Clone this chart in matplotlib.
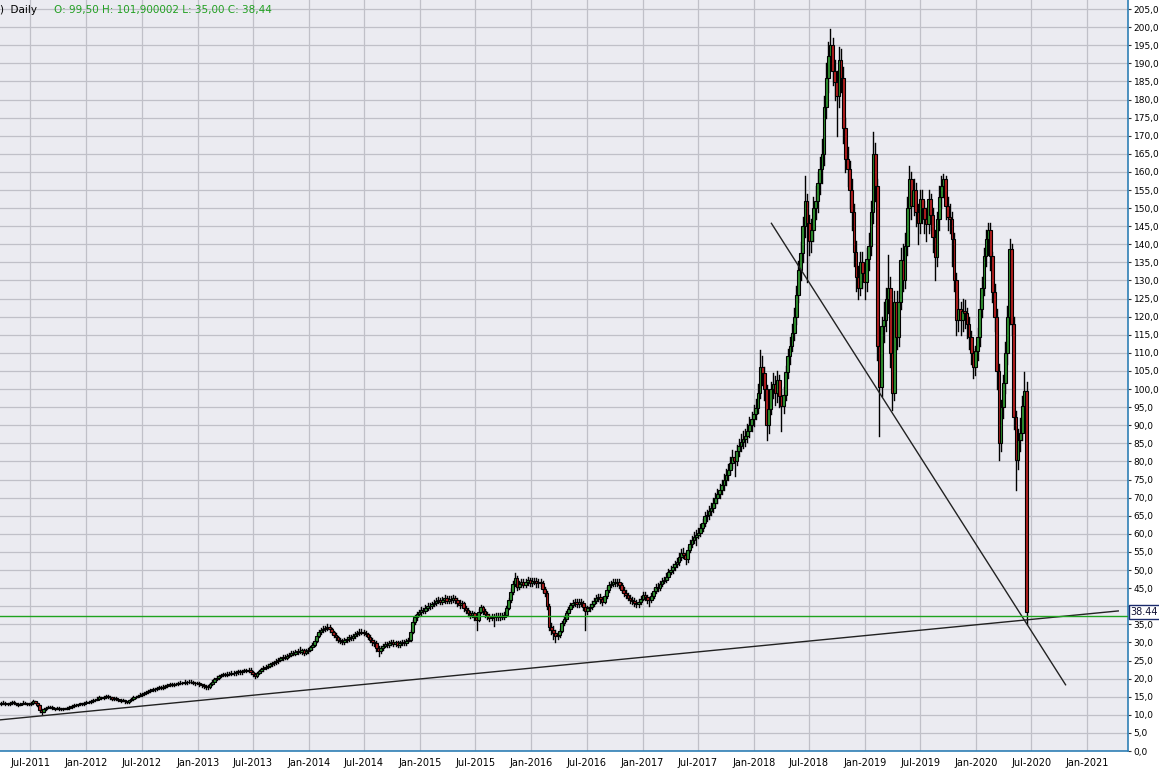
import numpy as np
import pandas as pd
import matplotlib
matplotlib.use("Agg")
import matplotlib.pyplot as plt
import matplotlib.dates as mdates
import matplotlib.transforms as mtransforms

# weekly bars, first bar in the week of 2011-03-28
first_week = "2011-03-28"
first_open = 13.0

close = [
    13.2, 13.4, 13.1, 12.9, 13.3, 13.5, 13.2, 13.0, 12.8, 13.1, 13.4, 13.2, 12.9, 13.0, 13.3,
    13.7, 13.4, 12.6, 11.2, 10.9,
    11.6, 12.0, 12.2, 12.1, 11.8, 11.7, 11.9, 11.6, 11.5, 11.8, 11.7, 11.9,
    12.2, 12.4, 12.7, 12.6, 12.9, 13.2, 13.0, 13.4, 13.6, 13.5, 13.8, 14.0, 14.2,
    14.5, 14.8, 14.6, 14.9, 15.1, 15.0,
    14.8, 14.5, 14.6, 14.3, 14.1, 13.9, 14.0, 13.7, 13.6,
    14.0, 14.4, 14.9, 15.0, 15.3, 15.6, 15.8, 16.0,
    16.3, 16.5, 16.8, 17.0, 17.2, 17.3, 17.6, 17.5, 17.8, 18.0,
    18.2, 18.4, 18.3, 18.6, 18.5, 18.7, 18.9, 18.8, 19.1, 19.0, 19.2, 19.1,
    18.9, 18.7, 18.8, 18.4, 18.1, 17.9, 17.6, 17.8,
    18.4, 19.2, 19.8, 20.3, 20.7, 21.0,
    21.2, 21.0, 21.4, 21.3, 21.6, 21.5, 21.8, 22.0, 21.8, 22.1, 22.3, 22.2, 22.5,
    21.8, 21.2, 20.8,
    21.5, 22.1, 22.6, 23.0, 23.2, 23.6, 23.9, 24.2, 24.5, 24.8, 25.2,
    25.6, 26.0, 25.8, 26.3, 26.6, 27.1, 26.9, 27.3, 27.6, 27.4, 27.8,
    27.2, 27.6, 28.0, 28.6, 29.3, 30.5, 31.8, 32.9,
    33.3, 33.8, 34.0, 34.3, 33.6, 32.8, 32.1, 31.4, 30.8, 30.5, 30.2,
    30.6, 31.0, 31.5, 31.2, 31.8, 32.4, 32.6, 33.0, 32.9,
    32.6, 32.3, 31.6, 30.8, 30.1, 29.9, 28.5, 27.6,
    28.4, 29.1, 29.5, 29.2, 29.8, 30.2, 29.6, 30.0, 29.3, 29.8, 30.1, 29.9, 30.5, 30.7,
    32.8, 35.7, 36.9, 37.8, 38.3, 39.0, 38.7, 39.6, 40.2, 40.0, 40.6, 40.9,
    41.4, 41.8, 41.2, 41.7, 42.3, 41.5, 41.9, 41.8,
    42.2, 41.6, 41.0, 40.4, 40.8, 39.6, 38.9, 38.2, 37.5, 38.0, 37.0, 36.2,
    38.5, 39.8, 38.6, 37.9, 37.2, 36.8, 37.1,
    36.9, 37.3, 37.0, 37.4, 37.1, 37.6, 39.5, 41.8, 44.0, 46.2, 47.9,
    45.4, 46.2, 46.8, 46.0, 46.7, 47.2, 46.5, 46.9, 47.0, 46.3, 46.8, 46.5,
    44.8, 43.7, 40.2, 34.3, 33.5, 32.5, 31.8, 32.1,
    33.2, 35.4, 36.5, 38.0, 39.2, 40.3, 40.9,
    41.3, 40.6, 41.2, 40.9, 39.8, 38.6, 39.5, 39.8, 40.7, 41.5, 42.2, 42.6,
    41.9, 41.2, 42.8, 44.5, 45.9, 46.2, 46.7, 46.3, 46.7,
    45.8, 44.6, 43.7, 43.0, 42.4, 41.8, 41.5, 41.0, 40.6, 41.2,
    42.0, 43.2, 42.6, 41.8, 41.8, 42.9, 44.1, 45.4, 45.0, 46.2, 47.0, 47.3,
    48.2, 49.5, 50.1, 50.8, 51.6, 52.3, 53.5, 54.8,
    54.2, 53.0, 55.6, 57.2, 58.4, 59.2, 59.8, 60.3,
    61.5, 63.0, 64.8, 65.3, 66.4, 67.2,
    68.5, 69.8, 71.0, 72.2, 73.4, 74.8, 76.3, 77.7,
    79.5, 81.3, 80.2, 82.8, 84.2, 85.5, 86.2, 86.9,
    88.4, 90.1, 91.6, 93.2, 94.9, 99.0, 106.0,
    104.5, 100.0, 90.0, 94.5, 99.9, 101.5, 98.8, 102.6,
    98.0, 95.2, 98.5, 104.6, 109.0, 112.0, 115.6,
    120.0, 126.0, 133.0, 137.5, 145.0, 152.0, 146.0, 141.0, 144.0,
    150.0, 152.0, 157.0, 160.7, 165.0, 178.0, 186.0, 192.0, 195.0,
    188.0, 184.8, 181.0, 191.0, 186.0, 172.0, 163.5, 160.7, 155.0, 148.8, 138.0,
    131.0, 128.0, 135.0, 132.0, 129.5, 136.0, 139.4, 148.8, 165.0, 156.0,
    112.0, 100.7, 117.3, 119.0, 125.0, 128.0, 110.0, 99.0, 124.0, 114.5,
    124.0, 135.8, 130.0, 139.4, 150.0, 158.0, 150.5, 155.0, 148.8, 146.0,
    152.4, 150.0, 147.0, 145.5, 152.4, 148.0, 142.0, 136.5, 147.0, 153.0,
    156.0, 158.0, 150.5, 147.5, 147.0, 141.4, 130.0, 119.0, 122.0, 119.0,
    121.5, 121.0, 118.0, 114.5, 110.0, 106.0, 110.5, 114.5, 122.0, 128.0,
    136.7, 141.4, 144.0, 136.7, 126.7, 120.0, 105.0, 85.2, 95.0, 101.8,
    110.0, 120.0, 138.6, 118.0, 92.4, 80.5, 86.0, 88.0, 95.2, 99.5, 38.44,
]

high = [
    13.5, 13.7, 13.6, 13.3, 13.6, 13.8, 13.7, 13.4, 13.2, 13.3, 13.7, 13.6, 13.4, 13.3, 13.6,
    14.0, 13.9, 13.5, 12.8, 11.5,
    11.8, 12.2, 12.5, 12.4, 12.3, 12.0, 12.1, 12.1, 11.8, 12.0, 12.0, 12.1,
    12.4, 12.6, 12.9, 12.9, 13.1, 13.4, 13.4, 13.6, 13.9, 13.8, 14.1, 14.3, 14.5,
    14.8, 15.1, 15.0, 15.2, 15.4, 15.4,
    15.3, 15.0, 14.9, 14.8, 14.5, 14.3, 14.3, 14.2, 13.9,
    14.2, 14.6, 15.1, 15.3, 15.6, 15.9, 16.1, 16.3,
    16.6, 16.8, 17.1, 17.3, 17.5, 17.6, 17.9, 17.9, 18.1, 18.3,
    18.5, 18.7, 18.7, 18.9, 18.9, 19.0, 19.3, 19.2, 19.5, 19.4, 19.6, 19.5,
    19.4, 19.2, 19.1, 19.0, 18.6, 18.4, 18.1, 18.1,
    18.7, 19.5, 20.1, 20.6, 21.1, 21.4,
    21.6, 21.5, 21.8, 21.8, 22.0, 22.0, 22.2, 22.4, 22.4, 22.5, 22.7, 22.7, 22.9,
    22.8, 22.1, 21.5,
    21.8, 22.5, 23.0, 23.4, 23.7, 24.0, 24.4, 24.7, 25.0, 25.3, 25.7,
    26.1, 26.5, 26.4, 26.8, 27.1, 27.6, 27.5, 27.8, 28.1, 28.6, 28.3,
    28.2, 28.1, 28.5, 29.1, 29.8, 31.0, 32.3, 33.4,
    33.9, 34.4, 34.6, 35.0, 34.8, 34.0, 33.2, 32.5, 31.8, 31.3, 31.0,
    31.1, 31.5, 32.0, 32.0, 32.3, 32.9, 33.2, 33.6, 33.6,
    33.4, 33.1, 32.7, 32.0, 31.2, 30.6, 30.3, 29.0,
    28.9, 29.6, 30.0, 30.0, 30.3, 30.7, 30.7, 30.5, 30.5, 30.3, 30.6, 30.6, 31.0, 31.3,
    33.3, 36.2, 37.5, 38.5, 39.0, 39.7, 39.6, 40.3, 40.9, 40.9, 41.3, 41.7,
    42.2, 42.6, 42.4, 42.5, 43.1, 42.9, 42.7, 42.8,
    43.0, 42.9, 42.2, 41.6, 41.5, 41.2, 40.2, 39.5, 38.8, 38.7, 38.5, 37.6,
    39.1, 40.4, 40.2, 39.1, 38.4, 37.8, 37.9,
    37.8, 38.0, 38.0, 38.1, 38.1, 38.3, 40.1, 42.4, 44.7, 46.9, 49.2,
    48.3, 47.0, 47.6, 47.5, 47.5, 48.1, 47.9, 47.7, 47.9, 47.7, 47.6, 47.5,
    47.0, 45.4, 44.2, 40.6, 35.5, 34.4, 33.3, 33.0,
    33.8, 36.0, 37.2, 38.7, 39.9, 41.0, 41.8,
    42.1, 42.0, 42.0, 41.9, 41.5, 40.4, 40.2, 40.6, 41.4, 42.3, 43.0, 43.5,
    43.3, 42.6, 43.5, 45.3, 46.7, 47.1, 47.6, 47.5, 47.6,
    47.4, 46.4, 45.3, 44.4, 43.7, 43.1, 42.5, 42.2, 41.7, 41.9,
    42.8, 44.0, 43.9, 43.1, 42.6, 43.7, 44.9, 46.2, 46.3, 47.0, 47.9, 48.2,
    49.1, 50.4, 51.1, 51.8, 52.6, 53.4, 54.6, 55.9,
    56.0, 55.0, 56.5, 58.3, 59.5, 60.4, 61.0, 61.5,
    62.7, 64.2, 66.0, 66.7, 67.8, 68.6,
    70.0, 71.3, 72.5, 73.8, 75.0, 76.4, 78.0, 79.4,
    81.2, 83.1, 83.0, 84.6, 86.1, 87.5, 88.3, 89.0,
    90.4, 92.2, 93.8, 95.5, 97.3, 101.5, 110.9,
    109.0, 106.0, 101.0, 97.0, 102.0, 104.5, 103.5, 105.0,
    104.0, 100.0, 100.5, 106.5, 111.0, 114.5, 118.0,
    122.5, 128.5, 135.5, 140.5, 147.5, 158.8, 154.0, 148.0, 147.0,
    153.0, 156.0, 160.0, 164.0, 169.0, 181.0, 190.0, 196.0, 199.4,
    197.0, 191.0, 188.0, 194.5, 194.0, 189.0, 175.0, 167.0, 163.0, 158.0, 151.0,
    141.0, 134.0, 138.0, 138.0, 135.0, 139.0, 143.0, 152.0, 171.0, 168.0,
    158.0, 115.0, 120.0, 124.0, 128.0, 137.0, 131.0, 113.0, 127.0, 127.0,
    127.0, 139.0, 140.0, 143.0, 153.0, 161.5, 160.0, 158.0, 157.0, 151.0,
    155.0, 155.0, 152.0, 150.0, 155.0, 154.0, 150.0, 144.0, 149.0, 156.0,
    159.0, 159.5, 159.0, 153.0, 151.0, 149.0, 143.0, 132.0, 125.0, 124.0,
    125.0, 124.5, 122.5, 120.0, 116.0, 111.0, 112.0, 117.0, 124.5, 131.0,
    139.0, 144.0, 146.0, 146.0, 138.0, 129.0, 122.0, 107.0, 97.0, 104.0,
    113.0, 123.0, 141.4, 140.0, 120.0, 94.0, 89.0, 92.0, 98.0, 104.8, 101.9,
]

low = [
    12.8, 13.0, 12.8, 12.6, 12.7, 13.1, 13.0, 12.7, 12.5, 12.6, 12.9, 13.0, 12.7, 12.7, 12.8,
    13.1, 13.2, 12.3, 10.8, 10.2,
    10.7, 11.4, 11.8, 11.9, 11.6, 11.4, 11.5, 11.4, 11.2, 11.3, 11.5, 11.5,
    11.7, 12.0, 12.2, 12.3, 12.4, 12.7, 12.8, 12.8, 13.2, 13.2, 13.3, 13.6, 13.8,
    14.0, 14.3, 14.3, 14.4, 14.7, 14.7,
    14.5, 14.2, 14.2, 14.0, 13.8, 13.6, 13.7, 13.3, 13.2,
    13.4, 13.8, 14.2, 14.6, 14.8, 15.1, 15.3, 15.5,
    15.8, 16.0, 16.3, 16.5, 16.7, 16.9, 17.0, 17.1, 17.2, 17.5,
    17.7, 17.9, 17.9, 18.0, 18.1, 18.2, 18.4, 18.4, 18.5, 18.6, 18.7, 18.7,
    18.5, 18.3, 18.4, 18.0, 17.7, 17.5, 17.1, 17.2,
    17.5, 18.2, 19.0, 19.5, 20.0, 20.4,
    20.7, 20.6, 20.7, 20.9, 21.0, 21.1, 21.1, 21.4, 21.4, 21.4, 21.8, 21.8, 21.8,
    21.4, 20.7, 20.2,
    20.5, 21.2, 21.8, 22.2, 22.6, 22.8, 23.2, 23.5, 23.8, 24.1, 24.4,
    24.8, 25.2, 25.3, 25.4, 25.9, 26.2, 26.4, 26.5, 26.9, 27.0, 26.9,
    26.6, 26.8, 27.2, 27.6, 28.2, 29.0, 30.1, 31.4,
    32.4, 32.8, 33.2, 33.5, 33.0, 32.2, 31.5, 30.7, 30.1, 29.8, 29.5,
    29.7, 30.1, 30.5, 30.7, 30.7, 31.3, 31.9, 32.1, 32.3,
    32.0, 31.7, 31.0, 30.1, 29.4, 29.1, 27.6, 26.3,
    27.1, 27.9, 28.6, 28.7, 28.7, 29.3, 29.1, 29.1, 28.8, 28.8, 29.3, 29.4, 29.4, 30.0,
    30.4, 32.5, 35.2, 36.3, 37.2, 37.7, 38.0, 38.1, 39.0, 39.3, 39.4, 40.0,
    40.3, 40.8, 40.5, 40.6, 41.0, 40.8, 40.8, 41.0,
    41.1, 40.9, 40.2, 39.6, 39.7, 38.8, 38.1, 37.4, 36.7, 36.9, 36.1, 33.5,
    35.8, 38.0, 37.9, 37.1, 36.4, 35.9, 36.1,
    34.5, 36.2, 36.3, 36.3, 36.4, 36.5, 37.2, 39.1, 41.3, 43.4, 45.5,
    44.6, 44.7, 45.5, 45.2, 45.3, 45.9, 45.7, 45.7, 46.1, 45.4, 45.4, 45.6,
    44.0, 42.8, 39.3, 33.5, 32.2, 31.0, 30.2, 31.0,
    31.6, 32.8, 34.8, 36.0, 37.4, 38.6, 39.7,
    40.1, 39.8, 39.9, 40.1, 39.0, 33.5, 37.8, 38.8, 39.1, 40.0, 40.9, 41.5,
    41.0, 40.3, 40.8, 42.3, 44.0, 45.2, 45.5, 45.5, 45.6,
    45.0, 43.8, 42.9, 42.2, 41.6, 41.0, 40.7, 40.2, 39.8, 39.9,
    40.6, 41.6, 41.8, 40.9, 40.1, 41.3, 42.4, 43.6, 44.2, 44.4, 45.6, 46.3,
    46.6, 47.6, 48.8, 49.3, 50.0, 50.8, 51.5, 52.7,
    53.2, 51.8, 52.3, 54.9, 56.4, 57.5, 57.0, 58.8,
    59.5, 60.7, 62.2, 63.6, 64.2, 65.3,
    66.0, 67.4, 68.6, 69.8, 71.0, 72.1, 73.4, 75.0,
    76.5, 78.2, 76.0, 79.0, 81.5, 82.8, 83.7, 84.4,
    85.3, 86.8, 88.5, 89.8, 91.6, 93.5, 97.5,
    101.0, 97.0, 86.0, 88.0, 93.0, 97.5, 95.5, 96.5,
    95.0, 88.5, 93.5, 97.0, 103.0, 107.0, 110.5,
    113.5, 118.0, 124.0, 130.0, 135.0, 142.0, 129.5, 137.0, 138.0,
    141.0, 147.0, 149.0, 154.0, 157.0, 162.0, 175.0, 182.0, 188.0,
    184.0, 180.0, 170.0, 178.0, 182.0, 168.0, 160.0, 156.0, 150.0, 144.0, 134.0,
    127.0, 124.8, 126.0, 128.0, 125.0, 127.0, 133.0, 137.0, 146.0, 152.0,
    108.0, 86.9, 98.0, 113.0, 116.0, 121.0, 106.0, 94.3, 97.0, 111.0,
    112.0, 122.0, 127.0, 128.0, 137.0, 147.0, 147.0, 148.0, 145.0, 140.0,
    143.0, 146.0, 143.0, 141.0, 143.0, 144.0, 138.0, 130.0, 134.0, 144.0,
    150.0, 153.0, 147.0, 144.0, 143.0, 134.0, 127.0, 115.0, 116.0, 115.0,
    116.0, 117.0, 114.0, 111.0, 107.0, 103.0, 104.0, 108.0, 112.0, 120.0,
    126.0, 134.0, 137.0, 133.0, 124.0, 116.0, 100.0, 80.5, 83.0, 92.0,
    99.0, 107.0, 118.0, 115.0, 89.0, 72.2, 78.0, 83.0, 86.0, 93.0, 35.0,
]

# last daily bar, shown in the header
last_o, last_h, last_l, last_c = 99.50, 101.900002, 35.00, 38.44

# hand drawn trend lines (date, price)
support_dates = ["2011-03-24", "2021-04-12"]
support_prices = [8.6, 38.7]
resist_dates = ["2018-02-28", "2020-10-21"]
resist_prices = [145.8, 18.3]
last_level = 37.2

x_range = ["2011-03-24", "2021-05-14"]
y_range = [0, 207.5]

bg = "#ebebf1"
red = "#b01e1e"
green = "#2f8f2f"
blue = "#2f7fb5"

n = min(len(close), len(high), len(low))
c = np.array(close[:n])
h = np.array(high[:n])
l = np.array(low[:n])
o = np.r_[first_open, c[:-1]]
dates = pd.date_range(first_week, periods=n, freq="7D")
x = mdates.date2num(dates)
lo_body = np.minimum(o, c)
hi_body = np.maximum(o, c)
h = np.maximum(h, hi_body)
l = np.minimum(l, lo_body)
cols = np.where(c >= o, green, red)

W, H = 1159, 773
fig = plt.figure(figsize=(W / 100, H / 100), dpi=100)
fig.patch.set_facecolor("white")
ax = fig.add_axes([0, 22 / H, 1128 / W, 751 / H])
ax.set_facecolor(bg)

wicks = ax.vlines(x, l, h, color="black", lw=1.0, zorder=2)
wicks.set_capstyle("projecting")
ax.bar(x, hi_body - lo_body, bottom=lo_body, width=9, color=cols,
       edgecolor="black", linewidth=0.8, zorder=3)

ax.plot(pd.to_datetime(support_dates), support_prices, color="#222222", lw=1.0, zorder=4)
ax.plot(pd.to_datetime(resist_dates), resist_prices, color="#222222", lw=1.0, zorder=4)
ax.axhline(last_level, color="#1fa31f", lw=1.0, zorder=4)

ax.set_xlim(pd.to_datetime(x_range[0]), pd.to_datetime(x_range[1]))
ax.set_ylim(*y_range)

ax.xaxis.set_major_locator(mdates.MonthLocator(bymonth=[1, 7]))
ax.xaxis.set_major_formatter(mdates.DateFormatter("%b-%Y"))
yt = np.arange(0, 206, 5)
ax.set_yticks(yt)
# the 40,0 label sits under the last-price box in the reference
ax.set_yticklabels(["" if v == 40 else f"{v:.1f}".replace(".", ",") for v in yt])
ax.yaxis.tick_right()
ax.tick_params(axis="y", labelsize=6.5, length=2.5, color="#333333", pad=1.5)
ax.tick_params(axis="x", labelsize=7, length=0, pad=5)

ax.grid(True, color="#c0c0c8", lw=0.9)
ax.set_axisbelow(True)
for s in ["top", "left"]:
    ax.spines[s].set_visible(False)
for s in ["right", "bottom"]:
    ax.spines[s].set_color(blue)
    ax.spines[s].set_linewidth(1.2)

trans = mtransforms.blended_transform_factory(ax.transAxes, ax.transData)
ax.annotate(f"{last_c:.2f}", xy=(1.0, last_c), xycoords=trans, xytext=(2, 0),
            textcoords="offset points", ha="left", va="center", fontsize=7,
            color="#111133", annotation_clip=False, zorder=10,
            bbox=dict(boxstyle="square,pad=0.2", fc="white", ec="#1a2a6c", lw=1))

def fmt(v):
    return f"{v:.2f}".replace(".", ",")

fig.text(0.0, 1 - 10 / H, ")  Daily", fontsize=7.5, va="center", ha="left")
fig.text(54 / W, 1 - 10 / H,
         f"O: {fmt(last_o)} H: {str(last_h).replace('.', ',')} L: {fmt(last_l)} C: {fmt(last_c)}",
         fontsize=7.5, va="center", ha="left", color="#22a022")

fig.savefig("out.png", dpi=100, facecolor=fig.get_facecolor())
